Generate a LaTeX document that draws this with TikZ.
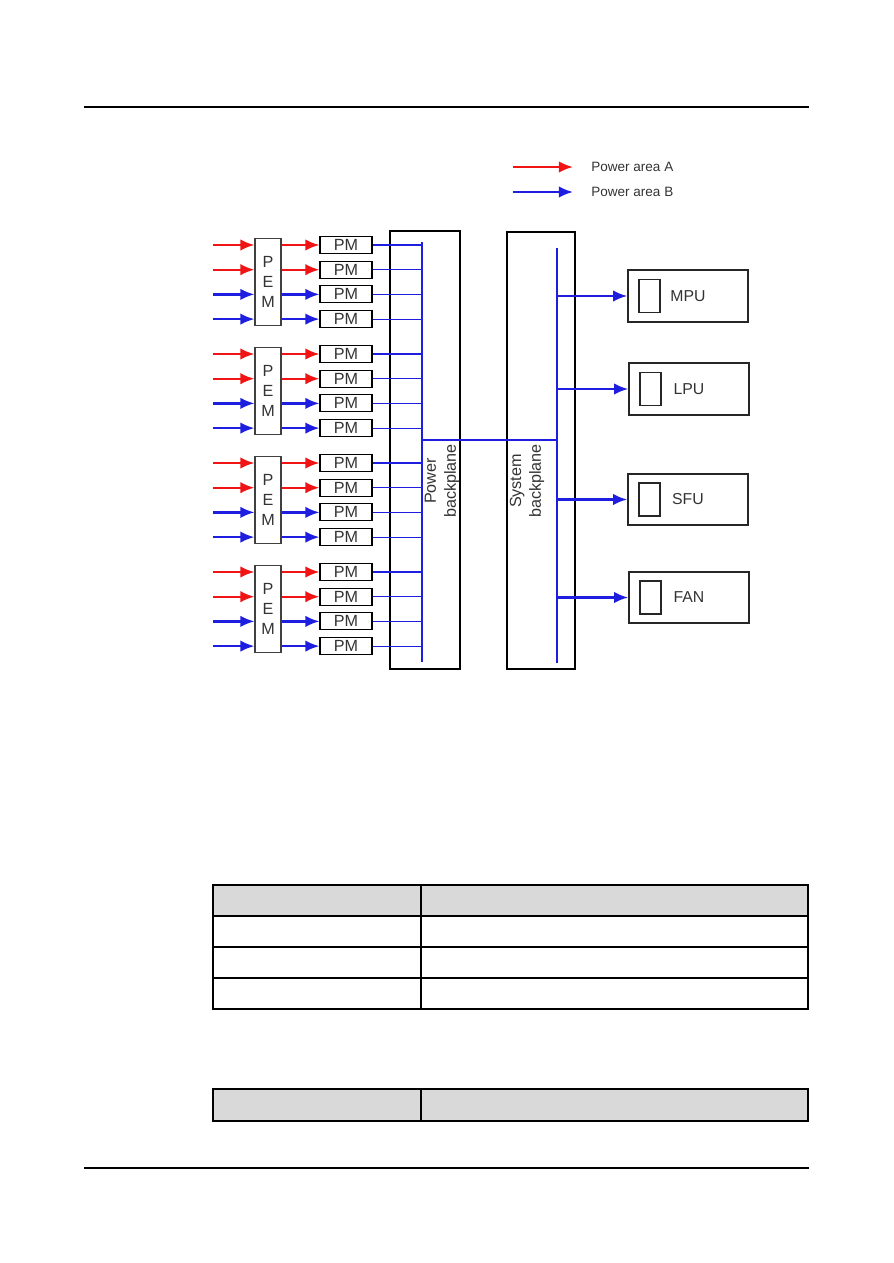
\documentclass[tikz,border=0pt]{standalone}
\usepackage{fontspec}
\setmainfont{Liberation Sans}
\usetikzlibrary{arrows.meta}
\definecolor{areaA}{RGB}{240,20,20}
\definecolor{areaB}{RGB}{30,30,225}
\definecolor{hdrgray}{RGB}{217,217,217}

\begin{document}
\begin{tikzpicture}[x=0.02cm, y=-0.02cm, >={Latex[length=8pt,width=6.5pt]},
		font=\fontsize{9.2}{11.3}\selectfont, text=black!80,
		feedA/.style={areaA, line width=1.3pt, ->},
		feedB/.style={areaB, line width=1.3pt, ->},
		tap/.style={areaB, line width=0.6pt},
		bus/.style={areaB, line width=1.2pt},
		legtext/.style={right, inner sep=0pt, font=\fontsize{7.7}{9}\selectfont},
		pembox/.style={draw=black!75, line width=0.6pt, minimum width=0.52cm, minimum height=1.74cm, inner sep=0pt, align=center},
		pmbox/.style={draw, line width=0.6pt, minimum width=1.04cm, minimum height=0.34cm, inner sep=0pt},
		plane/.style={draw, line width=0.9pt, inner sep=0pt},
		board/.style={draw=black!85, line width=0.9pt, minimum width=2.4cm, minimum height=1.03cm, inner sep=0pt, font=\fontsize{9}{11}\selectfont},
		slot/.style={draw=black!85, line width=0.9pt, minimum width=0.42cm, minimum height=0.66cm, inner sep=0pt},
		tcell/.style={draw, line width=0.85pt}]
		
		\useasboundingbox (0,0) rectangle (893,1263);
		
		\draw[line width=0.6pt] (84,107) -- (809,107);
		\draw[line width=0.6pt] (84,1168) -- (809,1168);
		
		% legend
		\coordinate (legA) at (513,167);
		\coordinate (legB) at (513,192);
		\node[legtext] (legAtext) at (591,167) {Power area A};
		\node[legtext] (legBtext) at (591,192) {Power area B};
		\draw[feedA, shorten >=0.36cm] (legA) -- (legAtext.west);
		\draw[feedB, shorten >=0.36cm] (legB) -- (legBtext.west);
		
		% backplanes
		\node[plane, minimum width=1.4cm, minimum height=8.76cm] (pb) at (425,450) {};
		\node[plane, minimum width=1.36cm, minimum height=8.74cm] (sb) at (541,450.5) {};
		\node[rotate=90, align=center] (pblabel) at (442,481) {Power\\backplane};
		\node[rotate=90, align=center] (sblabel) at (527,481) {System\\backplane};
		\coordinate (pbtop) at (422,242);
		\coordinate (pbbot) at (422,662);
		\coordinate (sbtop) at (557,248);
		\coordinate (sbbot) at (557,663);
		\coordinate (link) at (422,440);
		\draw[bus] (pbtop) -- (pbbot);
		\draw[bus] (sbtop) -- (sbbot);
		\draw[tap] (link) -- (link -| sbtop);
		
		% PEM groups
		\foreach \g in {0,...,3}{
			\pgfmathsetmacro{\gy}{245+109*\g}
			\node[pembox] (pem\g) at (268,\gy+37) {P\\E\\M};
			\foreach \r/\feed in {0/feedA,1/feedA,2/feedB,3/feedB}{
				\pgfmathsetmacro{\ry}{\gy+24.7*\r}
				\coordinate (in-\g-\r) at (213,\ry);
				\node[pmbox] (pm-\g-\r) at (346,\ry) {PM};
				\draw[\feed] (in-\g-\r) -- (in-\g-\r -| pem\g.west);
				\draw[\feed] (pm-\g-\r.west -| pem\g.east) -- (pm-\g-\r);
				\draw[tap] (pm-\g-\r) -- (pm-\g-\r -| pbtop);
			}
		}
		
		% boards
		\foreach \name/\lbl/\x/\y in {mpu/MPU/688/296, lpu/LPU/689/389, sfu/SFU/688/499.5, fan/FAN/689/597.5}{
			\node[board] (\name) at (\x,\y) {\lbl};
			\node[slot] (\name-slot) at ([xshift=0.45cm]\name.west) {};
			\draw[feedB] (\name.west -| sbtop) -- (\name);
		}
		
		% tables
		\draw[tcell, fill=hdrgray] (213,885) rectangle (421,916);
		\draw[tcell, fill=hdrgray] (421,885) rectangle (808,916);
		\foreach \y in {916,947,978}{
			\draw[tcell] (213,\y) rectangle (421,\y+31);
			\draw[tcell] (421,\y) rectangle (808,\y+31);
		}
		\draw[tcell, fill=hdrgray] (213,1089) rectangle (421,1121);
		\draw[tcell, fill=hdrgray] (421,1089) rectangle (808,1121);
		
	\end{tikzpicture}
\end{document}
